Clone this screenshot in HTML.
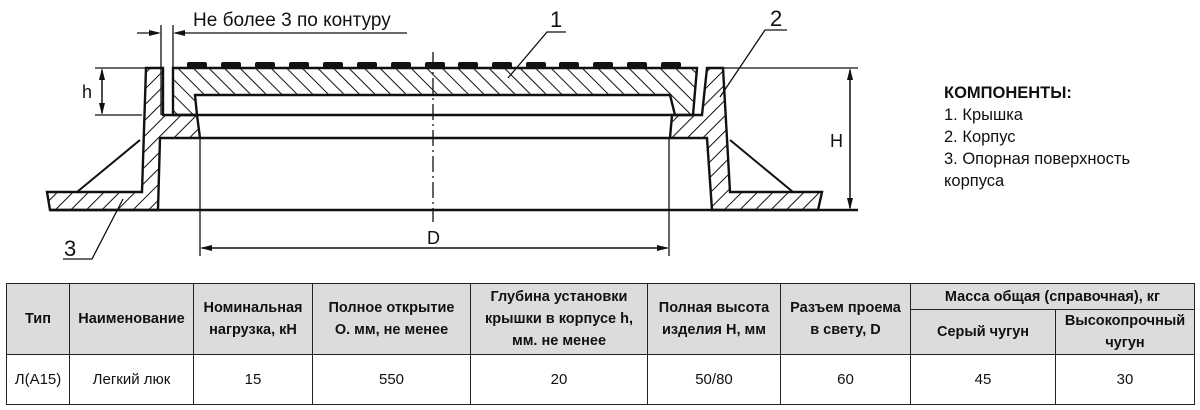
<!DOCTYPE html>
<html><head><meta charset="utf-8"><style>
body{margin:0;width:1200px;height:410px;background:#fff;overflow:hidden;position:relative;font-family:"Liberation Sans",sans-serif}
svg{position:absolute;left:0;top:0}
table{position:absolute;left:6px;top:283px;border-collapse:collapse;font-size:14.5px;color:#111}
td{border:1.5px solid #222;text-align:center;padding:0;line-height:22px}
.h td{background:#dcdcdc;font-weight:bold}
</style></head><body>
<svg width="1200" height="280" viewBox="0 0 1200 280">
<defs>
<pattern id="pl" width="11" height="11" patternUnits="userSpaceOnUse" patternTransform="rotate(45)"><line x1="0" y1="0" x2="0" y2="11" stroke="#111" stroke-width="2"/></pattern>
<pattern id="pr" width="11" height="11" patternUnits="userSpaceOnUse" patternTransform="rotate(-45)"><line x1="0" y1="0" x2="0" y2="11" stroke="#111" stroke-width="2"/></pattern>
</defs>
<g stroke="#111" stroke-width="2" fill="none">
<polygon points="173,68 697,68 693,115 675,115 670,95 195,95 197,115 173,115" fill="url(#pr)" stroke-width="2.4"/>
<polygon points="146,68 163,68 163,115 197,115 200,138 160,138 158,210 50,210 47,192 142,192" fill="url(#pl)" stroke-width="2.4"/>
<polygon points="707,68 723,68 730,192 822,192 818,210 712,210 707,138 670,138 672,115 702,115" fill="url(#pl)" stroke-width="2.4"/>
<line x1="77" y1="192" x2="140" y2="140"/>
<line x1="730" y1="140" x2="793" y2="192"/>
<line x1="195" y1="95" x2="670" y2="95"/>
<line x1="197" y1="115" x2="672" y2="115" stroke-width="2.5"/>
<line x1="200" y1="138" x2="670" y2="138" stroke-width="2.5"/>
<line x1="50" y1="210" x2="858" y2="210" stroke-width="2.5"/>
<line x1="95" y1="68" x2="146" y2="68" stroke-width="1.2"/>
<line x1="95" y1="115" x2="142" y2="115" stroke-width="1.2"/>
<line x1="723" y1="68" x2="858" y2="68" stroke-width="1.2"/>
<line x1="102" y1="70" x2="102" y2="113" stroke-width="1.5"/>
<line x1="850" y1="70" x2="850" y2="208" stroke-width="1.5"/>
<line x1="161" y1="25" x2="161" y2="115" stroke-width="1.3"/>
<line x1="173" y1="25" x2="173" y2="68" stroke-width="1.3"/>
<line x1="137" y1="33" x2="159" y2="33" stroke-width="1.3"/>
<line x1="175" y1="33" x2="407" y2="33" stroke-width="1.3"/>
<line x1="433" y1="52" x2="433" y2="222" stroke-width="1.3" stroke-dasharray="16,4,2,4"/>
<line x1="200" y1="138" x2="200" y2="256" stroke-width="1.3"/>
<line x1="669" y1="138" x2="669" y2="256" stroke-width="1.3"/>
<line x1="202" y1="248" x2="667" y2="248" stroke-width="1.5"/>
<polyline points="566,32 547,32 508,78" stroke-width="1.3"/>
<polyline points="787,30 765,30 720,97" stroke-width="1.3"/>
<polyline points="63,259 92,259 123,199" stroke-width="1.3"/>
</g>
<g fill="#111">
<polygon points="102,68 99,80 105,80"/><polygon points="102,115 99,103 105,103"/>
<polygon points="850,68 847,80 853,80"/><polygon points="850,210 847,198 853,198"/>
<polygon points="200,248 212,245 212,251"/><polygon points="669,248 657,245 657,251"/>
<polygon points="161,33 149,30 149,36"/><polygon points="173,33 185,30 185,36"/>
<rect x="187" y="62" width="20" height="6" rx="2"/><rect x="221" y="62" width="20" height="6" rx="2"/><rect x="255" y="62" width="20" height="6" rx="2"/><rect x="289" y="62" width="20" height="6" rx="2"/><rect x="323" y="62" width="20" height="6" rx="2"/><rect x="357" y="62" width="20" height="6" rx="2"/><rect x="391" y="62" width="20" height="6" rx="2"/><rect x="425" y="62" width="20" height="6" rx="2"/><rect x="458" y="62" width="20" height="6" rx="2"/><rect x="492" y="62" width="20" height="6" rx="2"/><rect x="526" y="62" width="20" height="6" rx="2"/><rect x="559" y="62" width="20" height="6" rx="2"/><rect x="593" y="62" width="20" height="6" rx="2"/><rect x="627" y="62" width="20" height="6" rx="2"/><rect x="661" y="62" width="20" height="6" rx="2"/>
</g>
<g font-family="Liberation Sans, sans-serif" fill="#111">
<text x="193" y="26" font-size="19">Не более 3 по контуру</text>
<text x="82" y="98" font-size="18">h</text>
<text x="830" y="147" font-size="18">H</text>
<text x="427" y="244" font-size="18">D</text>
<text x="550" y="27" font-size="22">1</text>
<text x="770" y="26" font-size="22">2</text>
<text x="64" y="256" font-size="22">3</text>
<text x="944" y="98" font-size="16.5" font-weight="bold">КОМПОНЕНТЫ:</text>
<text x="944" y="120" font-size="16.5">1. Крышка</text>
<text x="944" y="142" font-size="16.5">2. Корпус</text>
<text x="944" y="164" font-size="16.5">3. Опорная поверхность</text>
<text x="944" y="186" font-size="16.5">корпуса</text>
</g>
</svg>
<table>
<tr class="h" style="height:26px">
<td rowspan="2" style="width:62px">Тип</td>
<td rowspan="2" style="width:123px">Наименование</td>
<td rowspan="2" style="width:118px">Номинальная<br>нагрузка, кН</td>
<td rowspan="2" style="width:157px">Полное открытие<br>О. мм, не менее</td>
<td rowspan="2" style="width:176px">Глубина установки<br>крышки в корпусе h,<br>мм. не менее</td>
<td rowspan="2" style="width:132px">Полная высота<br>изделия Н, мм</td>
<td rowspan="2" style="width:129px">Разъем проема<br>в свету, D</td>
<td colspan="2">Масса общая (справочная), кг</td>
</tr>
<tr class="h" style="height:43px">
<td style="width:144px">Серый чугун</td>
<td style="width:138px">Высокопрочный<br>чугун</td>
</tr>
<tr style="height:50px;font-size:15px">
<td>Л(А15)</td><td>Легкий люк</td><td>15</td><td>550</td><td>20</td><td>50/80</td><td>60</td><td>45</td><td>30</td>
</tr>
</table>
</body></html>
